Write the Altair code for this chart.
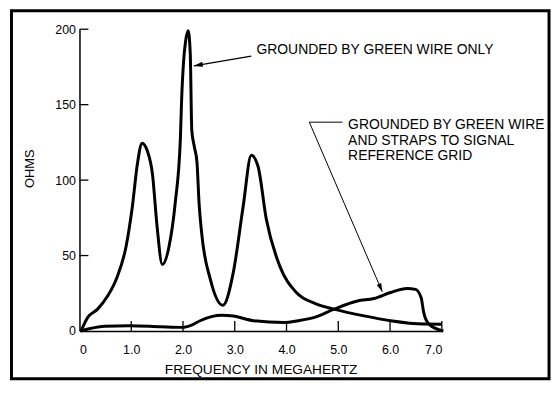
import altair as alt
import pandas as pd

# --- data ---
freq_green = [0.03, 0.16, 0.35, 0.54, 0.73, 0.90, 1.02, 1.12, 1.21, 1.31, 1.41, 1.50,
              1.60, 1.73, 1.85, 1.95, 1.97, 2.01, 2.05, 2.10, 2.14, 2.17, 2.22, 2.27,
              2.31, 2.36, 2.53, 2.77, 2.97, 3.16, 3.32, 3.45, 3.61, 3.87, 4.19, 4.57,
              4.92, 5.50, 6.01, 6.65, 7.0]
ohms_green = [0, 9, 14.5, 23, 36, 56, 82, 111, 124.5, 119.5, 104, 69,
              44, 56, 85, 128, 150, 178, 192, 199, 184, 133, 122, 112,
              85, 65, 34, 17, 38.5, 82, 116.5, 109, 74, 43, 25.5, 18,
              14.5, 10, 6.8, 4.6, 4.5]

freq_straps = [0.02, 0.48, 0.96, 1.57, 1.98, 2.21, 2.33, 2.75, 2.97, 3.36, 3.96, 4.22,
               4.54, 4.92, 5.37, 5.69, 6.01, 6.33, 6.49, 6.60, 6.65, 6.75, 7.03]
ohms_straps = [0, 3.1, 3.5, 2.8, 2.4, 4.6, 6.8, 10.5, 10, 6.8, 5.7, 6.8,
               9, 14.5, 19.9, 21.5, 25.5, 28.1, 27.6, 22.2, 12.3, 4.6, 0]

x_ticks = [1, 2, 3, 4, 5, 6, 7]
x_labels = [0, 1, 2, 3, 4, 5, 6, 7]
y_ticks = [50, 100, 150, 200]
y_labels = [0, 50, 100, 150, 200]

label1_text = ["GROUNDED BY GREEN WIRE ONLY"]
label1_f = [3.42]
label1_ohm = [186.2]

label2_text = ["GROUNDED BY GREEN WIRE", "AND STRAPS TO SIGNAL", "REFERENCE GRID"]
label2_f = [5.19, 5.19, 5.19]
label2_ohm = [136.2, 125.9, 115.8]

arrow1_f = [3.32, 2.21]
arrow1_ohm = [182.2, 175.7]
arrow2_f = [5.08, 4.44, 5.85]
arrow2_ohm = [138.4, 138.4, 26.0]

W, H = 365, 304
FONT = "Liberation Sans"

curves = pd.concat([
    pd.DataFrame({"f": freq_green, "ohm": ohms_green, "s": "green"}),
    pd.DataFrame({"f": freq_straps, "ohm": ohms_straps, "s": "straps"}),
])

xscale = alt.Scale(domain=[0, 7], nice=False)
yscale = alt.Scale(domain=[0, 200], nice=False)

xaxis = alt.Axis(values=x_labels, labelExpr="datum.value == 0 ? '0' : format(datum.value, '.1f')",
                 tickSize=0, ticks=False, grid=False, domainColor="black", domainWidth=1.5,
                 labelFont=FONT, labelFontSize=12.5, labelColor="black", labelPadding=13,
                 title="FREQUENCY IN MEGAHERTZ", titleFont=FONT, titleFontSize=13.8,
                 titleFontWeight="normal", titleColor="black", titleY=39,
                 titleBaseline="middle")
yaxis = alt.Axis(values=y_labels, tickSize=0, ticks=False, grid=False, domainColor="black",
                 domainWidth=1.5, labelFont=FONT, labelFontSize=12.5, labelColor="black",
                 labelPadding=4, title="OHMS", titleFont=FONT, titleFontSize=13,
                 titleFontWeight="normal", titleColor="black", titleX=-50, titleY=140,
                 titleAngle=270, titleBaseline="middle", titleAlign="center")

curve_layer = alt.Chart(curves).mark_line(interpolate="monotone", color="black",
                                          strokeWidth=3, strokeJoin="round").encode(
    x=alt.X("f:Q", scale=xscale, axis=xaxis),
    y=alt.Y("ohm:Q", scale=yscale, axis=yaxis),
    detail="s:N",
)

xt = alt.Chart(pd.DataFrame({"f": x_ticks})).mark_rule(color="black", strokeWidth=1.3).encode(
    x="f:Q", y=alt.value(H), y2=alt.value(H - 10))
yt = alt.Chart(pd.DataFrame({"ohm": y_ticks})).mark_rule(color="black", strokeWidth=1.3).encode(
    y="ohm:Q", x=alt.value(0), x2=alt.value(9))

t1 = alt.Chart(pd.DataFrame({"f": label1_f, "ohm": label1_ohm, "t": label1_text})).mark_text(
    align="left", baseline="middle", font=FONT, fontSize=14, color="black").encode(
    x="f:Q", y="ohm:Q", text="t:N")
t2 = alt.Chart(pd.DataFrame({"f": label2_f, "ohm": label2_ohm, "t": label2_text})).mark_text(
    align="left", baseline="middle", font=FONT, fontSize=14, color="black").encode(
    x="f:Q", y="ohm:Q", text="t:N")

a1 = alt.Chart(pd.DataFrame({"f": arrow1_f, "ohm": arrow1_ohm, "i": [0, 1]})).mark_line(
    color="black", strokeWidth=1.4).encode(x="f:Q", y="ohm:Q", order="i:O")
a2 = alt.Chart(pd.DataFrame({"f": arrow2_f, "ohm": arrow2_ohm, "i": [0, 1, 2]})).mark_line(
    color="black", strokeWidth=1.0).encode(x="f:Q", y="ohm:Q", order="i:O")

HEAD = "M0,0L-0.4,1.4L0.4,1.4Z"
h1 = alt.Chart(pd.DataFrame({"f": arrow1_f[-1:], "ohm": arrow1_ohm[-1:]})).mark_point(
    shape=HEAD, size=165, filled=True, color="black", opacity=1, angle=260).encode(
    x="f:Q", y="ohm:Q")
h2 = alt.Chart(pd.DataFrame({"f": arrow2_f[-1:], "ohm": arrow2_ohm[-1:]})).mark_point(
    shape=HEAD, size=150, filled=True, color="black", opacity=1, angle=157).encode(
    x="f:Q", y="ohm:Q")

border = alt.Chart(pd.DataFrame({"k": [0]})).mark_rect(
    fillOpacity=0, stroke="black", strokeWidth=3).encode(
    x=alt.value(-68.5), x2=alt.value(473), y=alt.value(-18.5), y2=alt.value(352))

chart = alt.layer(curve_layer, xt, yt, t1, t2, a1, a2, h1, h2, border).properties(
    width=W, height=H,
    autosize=alt.AutoSizeParams(type="none"),
    padding={"left": 72, "top": 20, "right": 111, "bottom": 50},
    background="white",
).configure_view(strokeWidth=0)

chart.save("out.html", embed_options={"renderer": "svg", "actions": False})
